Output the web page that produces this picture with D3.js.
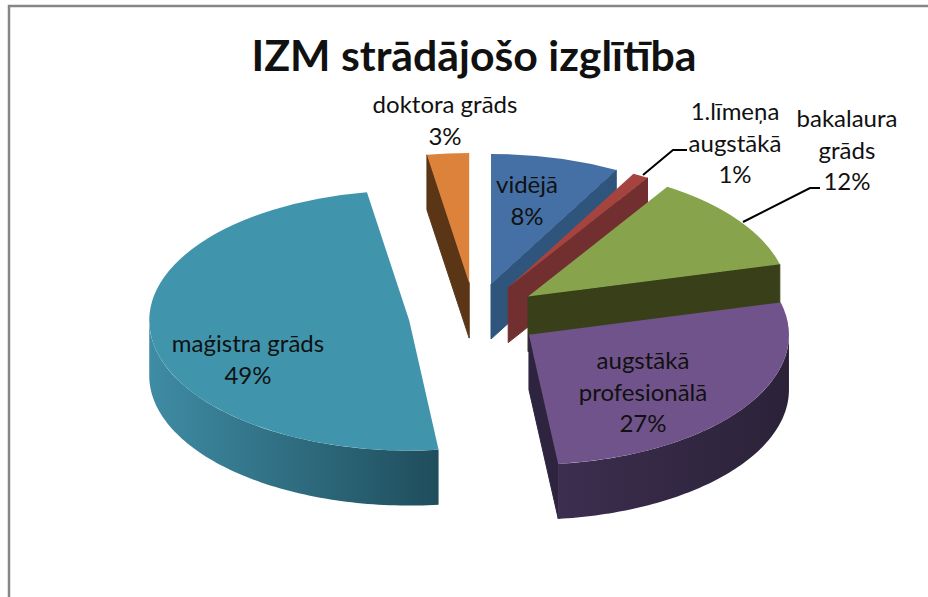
<!DOCTYPE html>
<html lang="en">

<head>
    <meta charset="utf-8">
    <title>IZM strādājošo izglītība</title>
    <script src="https://cdn.jsdelivr.net/npm/d3@7"></script>
    <style>
        body { margin: 0; background: #fff; }
        svg { display: block; }
        text { font-family: Lato, "Open Sans", sans-serif; fill: #111; }
    </style>
</head>

<body>
    <script>
        var categories = ['vidējā', '1.līmeņa augstākā', 'bakalaura grāds', 'augstākā profesionālā', 'maģistra grāds', 'doktora grāds'];
        var values = [8.0, 1.0, 12.0, 27.2, 49.2, 2.6];
        var topColors = ['#4570a6', '#a5433f', '#87a44d', '#70538a', '#4095ad', '#dc823a'];
        var wallColors = ['#30557c', '#722f2f', '#394019', '#2f2440', '#2a6a7c', '#5a3616'];
        var wallLeft = ['#30557c', '#722f2f', '#394019', '#3c2e4f', '#3f8ca4', '#5a3616'];
        var wallRight = ['#30557c', '#722f2f', '#394019', '#2b2238', '#1f4d5c', '#5a3616'];
        var drawOrder = [5, 0, 1, 2, 4, 3];
        var labelLines = [['vidējā', '8%'], ['1.līmeņa', 'augstākā', '1%'], ['bakalaura', 'grāds', '12%'], ['augstākā', 'profesionālā', '27%'], ['maģistra grāds', '49%'], ['doktora grāds', '3%']];
        var labelPos = [[527, 193], [735, 120], [847, 127], [643, 369], [248, 352], [445, 113]];
        var leaders = [[[643, 175], [673, 150], [687, 150]], [[743, 222], [810, 188], [820, 188]]];

        var width = 928, height = 597;
        var cx = 474.6, cy = 316, radius = 260, tilt = 0.5, depth = 55, explode = 66;

        var svg = d3.select('body').append('svg').attr('width', width).attr('height', height);

        svg.append('path')
            .attr('d', 'M9,' + height + 'V6H' + width)
            .attr('fill', 'none').attr('stroke', '#868686').attr('stroke-width', 2.5);

        svg.append('text').attr('x', 474).attr('y', 71).attr('text-anchor', 'middle')
            .style('font-size', '42.8px').style('font-weight', 700)
            .text('IZM strādājošo izglītība');

        var arcs = d3.pie().sort(null)(values);
        var arc = d3.arc().innerRadius(0).outerRadius(radius);

        var defs = svg.append('defs');
        function px(a) { return radius * Math.sin(a); }
        function py(a) { return -radius * tilt * Math.cos(a); }

        function drawSlice(i) {
            var d = arcs[i];
            var mid = (d.startAngle + d.endAngle) / 2;
            var ox = cx + explode * Math.sin(mid), oy = cy - explode * tilt * Math.cos(mid);
            var g = svg.append('g').attr('transform', 'translate(' + ox + ',' + oy + ')');

            // radial walls, only the ones facing the viewer
            [d.startAngle, d.endAngle].forEach(function (a, k) {
                var visible = k == 0 ? Math.sin(a) < -1e-6 : Math.sin(a) > 1e-6;
                if (!visible) return;
                g.append('path')
                    .attr('d', d3.line()([[0, 0], [px(a), py(a)], [px(a), py(a) + depth], [0, depth]]) + 'Z')
                    .attr('fill', wallColors[i])
                    .attr('stroke', wallColors[i]).attr('stroke-width', 1);
            });

            // outer wall on the front half
            var a0 = Math.max(d.startAngle, Math.PI / 2), a1 = Math.min(d.endAngle, Math.PI * 1.5);
            if (a1 > a0) {
                var steps = d3.range(0, 81).map(function (k) { return a0 + (a1 - a0) * k / 80; });
                var grad = defs.append('linearGradient').attr('id', 'wall' + i)
                    .attr('gradientUnits', 'userSpaceOnUse')
                    .attr('x1', d3.min(steps, px)).attr('x2', d3.max(steps, px)).attr('y1', 0).attr('y2', 0);
                grad.append('stop').attr('offset', 0).attr('stop-color', wallLeft[i]);
                grad.append('stop').attr('offset', 1).attr('stop-color', wallRight[i]);
                g.append('path')
                    .attr('d', d3.area().x(px).y0(py).y1(function (a) { return py(a) + depth; })(steps))
                    .attr('fill', 'url(#wall' + i + ')');
            }

            g.append('path')
                .attr('transform', 'scale(1,' + tilt + ')')
                .attr('d', arc(d))
                .attr('fill', topColors[i]);
        }
        drawOrder.forEach(drawSlice);

        svg.append('g').selectAll('path').data(leaders).enter().append('path')
            .attr('d', d3.line())
            .attr('fill', 'none').attr('stroke', '#000').attr('stroke-width', 2);

        labelLines.forEach(function (lines, i) {
            var t = svg.append('text').attr('text-anchor', 'middle')
                .attr('x', labelPos[i][0]).attr('y', labelPos[i][1])
                .style('font-size', '24px');
            lines.forEach(function (s, k) {
                t.append('tspan').attr('x', labelPos[i][0]).attr('dy', k == 0 ? 0 : 31.5).text(s);
            });
        });
    </script>
</body>

</html>
